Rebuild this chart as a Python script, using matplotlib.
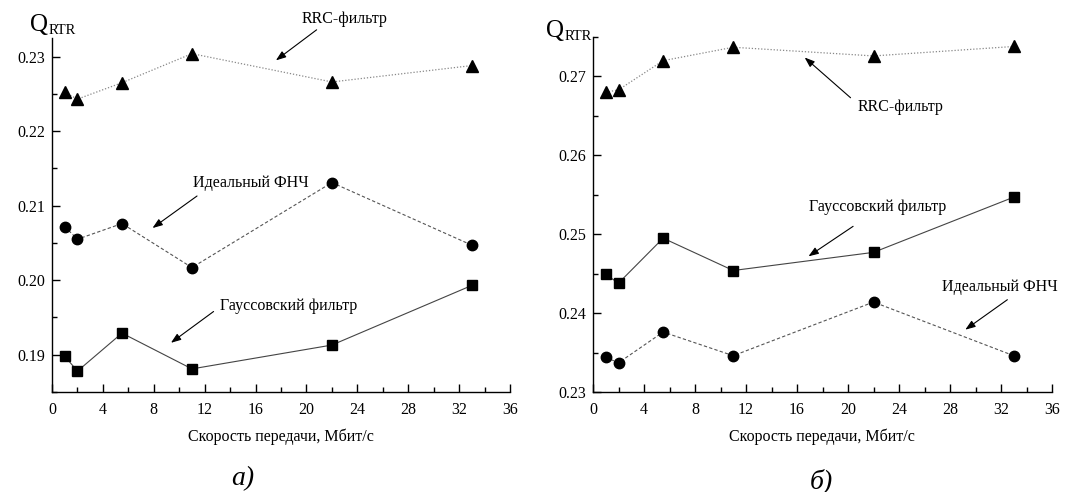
import matplotlib
matplotlib.use('Agg')
import matplotlib.pyplot as plt
from matplotlib.ticker import MultipleLocator

plt.rcParams['font.family'] = ['Liberation Serif', 'DejaVu Serif']

# скорости передачи, Мбит/с
speed = [1, 2, 5.5, 11, 22, 33]

# панель а)
rrc_a = [0.2252, 0.2243, 0.2265, 0.2304, 0.2266, 0.2288]
ideal_a = [0.2072, 0.2055, 0.2076, 0.2017, 0.2131, 0.2047]
gauss_a = [0.1898, 0.1878, 0.1929, 0.1881, 0.1913, 0.1993]

# панель б)
rrc_b = [0.2680, 0.2683, 0.2720, 0.2737, 0.2726, 0.2738]
ideal_b = [0.2344, 0.2337, 0.2376, 0.2346, 0.2414, 0.2346]
gauss_b = [0.2449, 0.2438, 0.2495, 0.2454, 0.2477, 0.2547]

xlabel = 'Скорость передачи, Мбит/с'
lbl_rrc = 'RRC-фильтр'
lbl_ideal = 'Идеальный ФНЧ'
lbl_gauss = 'Гауссовский фильтр'

W, H = 1081, 492
fig = plt.figure(figsize=(W / 100, H / 100), dpi=100)
ax1 = fig.add_axes([52 / W, 1 - 392 / H, 458 / W, 354 / H])
ax2 = fig.add_axes([593 / W, 1 - 392 / H, 459 / W, 355 / H])


def draw(ax, rrc, ideal, gauss, ylim, yfmt):
    ax.plot(speed, rrc, color='#888888', lw=0.9, ls=(0, (1, 1.5)),
            marker='^', ms=8.5, mfc='black', mec='black')
    ax.plot(speed, ideal, color='#555555', lw=0.8, ls=(0, (3, 2)),
            marker='o', ms=7.5, mfc='black', mec='black')
    ax.plot(speed, gauss, color='#444444', lw=0.8, ls='-',
            marker='s', ms=7, mfc='black', mec='black')
    ax.set_xlim(0, 36)
    ax.set_ylim(*ylim)
    ax.xaxis.set_major_locator(MultipleLocator(4))
    ax.xaxis.set_minor_locator(MultipleLocator(2))
    ax.yaxis.set_major_locator(MultipleLocator(0.01))
    ax.yaxis.set_minor_locator(MultipleLocator(0.005))
    ax.yaxis.set_major_formatter(plt.FuncFormatter(lambda v, p: yfmt % v))
    for s in ['top', 'right']:
        ax.spines[s].set_visible(False)
    for s in ['left', 'bottom']:
        ax.spines[s].set_linewidth(1.0)
    ax.tick_params(which='major', direction='in', length=6, width=1.0,
                   labelsize=11.5)
    ax.tick_params(axis='x', which='major', pad=7)
    ax.tick_params(axis='y', which='major', pad=5)
    ax.tick_params(which='minor', direction='in', length=3.5, width=1.0)


def note(ax, text, txy, tail, head):
    ax.text(txy[0], txy[1], text, ha='center', va='center', fontsize=11.5,
            clip_on=False)
    ax.annotate('', xy=head, xytext=tail, annotation_clip=False,
                arrowprops=dict(arrowstyle='-|>,head_length=0.6,head_width=0.22',
                                color='black', lw=0.8, shrinkA=0, shrinkB=0))


draw(ax1, rrc_a, ideal_a, gauss_a, (0.185, 0.2325), '%.2f')
draw(ax2, rrc_b, ideal_b, gauss_b, (0.23, 0.275), '%.2f')

note(ax1, lbl_rrc, (23.0, 0.2350), (20.8, 0.2336), (17.6, 0.2295))
note(ax1, lbl_ideal, (15.6, 0.2130), (11.4, 0.2113), (7.9, 0.2070))
note(ax1, lbl_gauss, (18.6, 0.1966), (12.7, 0.1958), (9.35, 0.1916))

note(ax2, lbl_rrc, (24.1, 0.2661), (20.2, 0.2673), (16.6, 0.2724))
note(ax2, lbl_gauss, (22.35, 0.2534), (20.4, 0.2510), (16.9, 0.2472))
note(ax2, lbl_ideal, (31.9, 0.2433), (32.5, 0.2417), (29.2, 0.2379))

# подписи осей
for x0, y0 in [(30, 31), (546, 37)]:
    fig.text(x0 / W, 1 - y0 / H, 'Q', fontsize=18, va='baseline', ha='left')
    fig.text((x0 + 19) / W, 1 - (y0 + 3) / H, 'RTR', fontsize=10.5,
             va='baseline', ha='left')

fig.text(281 / W, 1 - 437 / H, xlabel, ha='center', va='center', fontsize=11.5)
fig.text(822 / W, 1 - 437 / H, xlabel, ha='center', va='center', fontsize=11.5)

fig.text(243 / W, 1 - 479 / H, 'а)', ha='center', va='center', fontsize=20,
         style='italic')
fig.text(821 / W, 1 - 481 / H, 'б)', ha='center', va='center', fontsize=20,
         style='italic')

fig.savefig('out.png', dpi=100)
